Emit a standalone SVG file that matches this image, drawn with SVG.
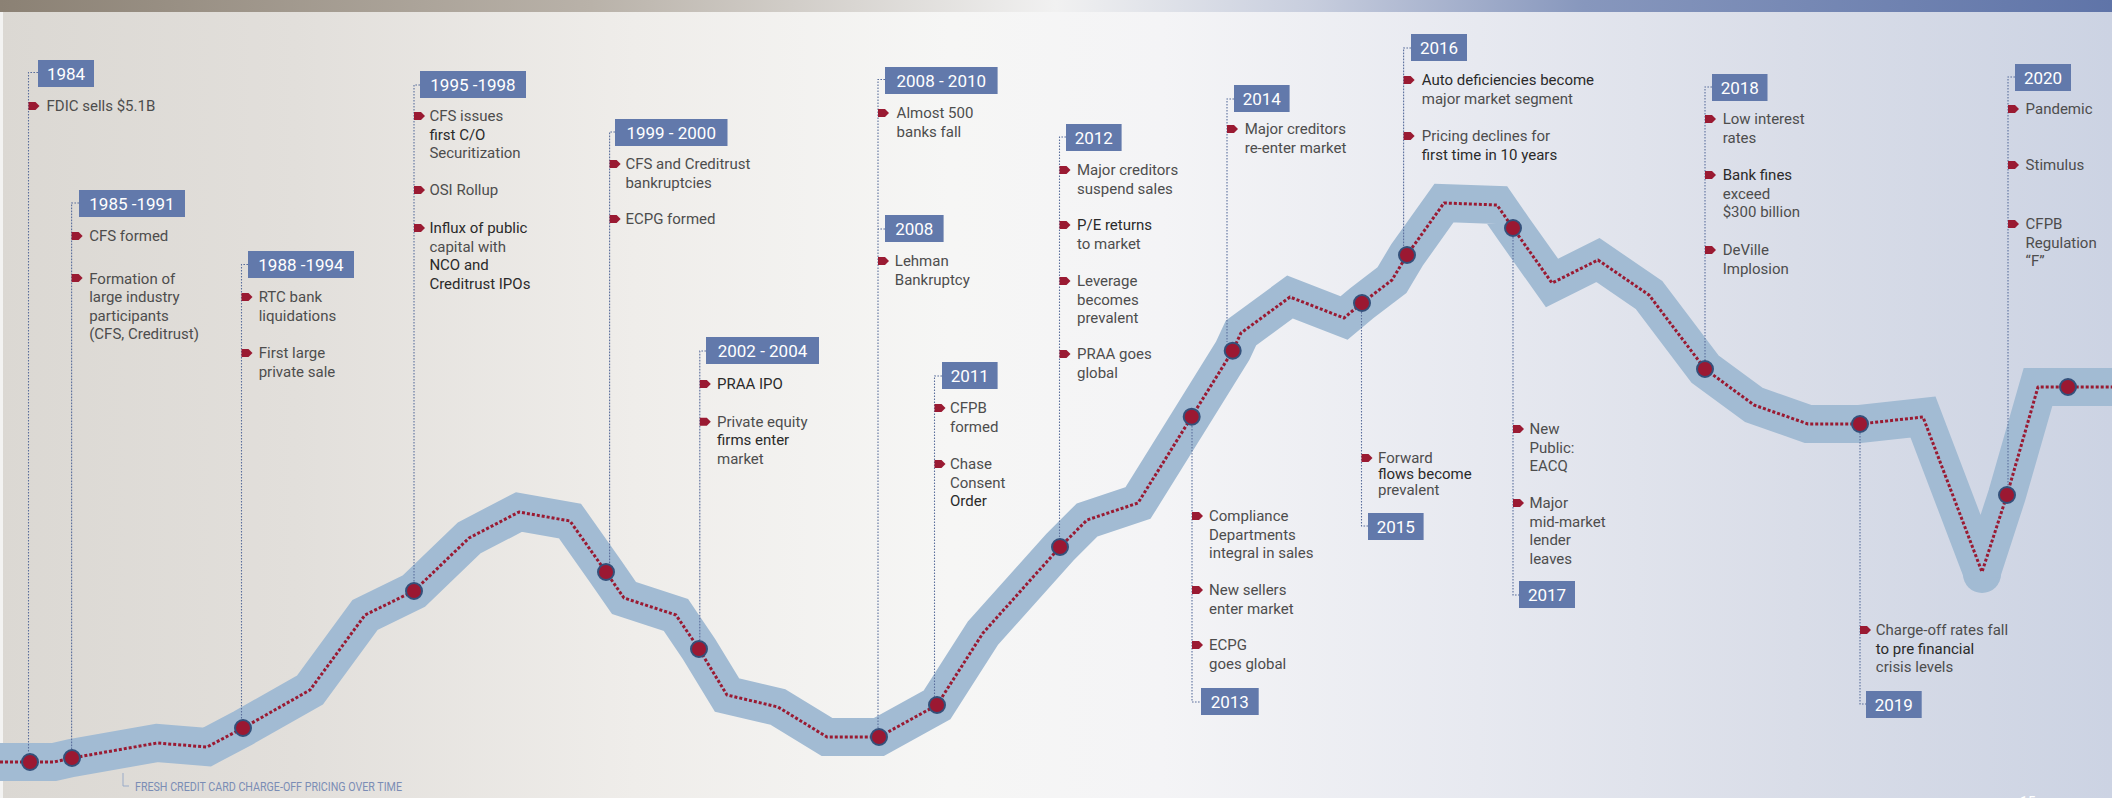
<svg xmlns="http://www.w3.org/2000/svg" xmlns:xlink="http://www.w3.org/1999/xlink" width="2112" height="798" viewBox="0 0 2112 798">
<defs>
<linearGradient id="bg" x1="0" y1="0" x2="1" y2="0">
<stop offset="0" stop-color="#dbd8d3"/>
<stop offset="0.14" stop-color="#e2dfdb"/>
<stop offset="0.3" stop-color="#efedea"/>
<stop offset="0.45" stop-color="#f6f6f5"/>
<stop offset="0.55" stop-color="#f4f4f6"/>
<stop offset="0.7" stop-color="#e7e9f0"/>
<stop offset="0.85" stop-color="#d9dde8"/>
<stop offset="1" stop-color="#ccd3e3"/>
</linearGradient>
<linearGradient id="bar" x1="0" y1="0" x2="1" y2="0">
<stop offset="0" stop-color="#8b8174"/>
<stop offset="0.28" stop-color="#b9b2a9"/>
<stop offset="0.5" stop-color="#f1f1f1"/>
<stop offset="0.62" stop-color="#c8cede"/>
<stop offset="0.75" stop-color="#8797bd"/>
<stop offset="1" stop-color="#5f74a8"/>
</linearGradient>
<path id="flag" d="M0,-4 L7,-4 L11,0 L7,4 L0,4 Z" fill="#9a1a32"/>
<style>
.yb{fill:#6279ab}
.yt{font-family:Roboto,"Liberation Sans",sans-serif;font-size:17px;fill:#ffffff;text-anchor:middle}
.t{font-family:Roboto,"Liberation Sans",sans-serif;font-size:15px;fill:#4d4d4d}
.d{fill:#2a2a2a}
.conn{fill:none;stroke:#5a6e9c;stroke-width:1.1;stroke-dasharray:1.6 1.4}
.mk{fill:#9b1832;stroke:#34507a;stroke-width:2}
</style>
</defs>
<rect x="0" y="0" width="2112" height="798" fill="url(#bg)"/>
<rect x="0" y="12" width="3" height="786" fill="#f3f3f2"/>
<rect x="0" y="0" width="2112" height="12" fill="url(#bar)"/>

<g id="chart">
<circle cx="1982" cy="574" r="19" fill="#a2bbd3"/>
<path id="band" d="M0,762 L30,762 L54,762 L72,758 L157,743 L207,747 L243,728 L310,690 L365,615 L414,591 L469,538 L519,512 L570,521 L606,572 L624,598 L676,615 L699,649 L727,695 L778,707 L827,737 L879,737 L937,705 L983,633 L1060,547 L1087,520 L1138,503 L1191.7,416.7 L1232.7,350.7 L1241,333 L1290,297 L1344,318 L1362,303 L1392,280 L1407,255 L1444,203 L1497,205 L1513,228 L1552,283 L1598,260 L1649,295 L1705,369 L1754,405 L1808,424 L1860,424 L1923,417 L1982,572 L2007,495 L2038,387 L2112,387" fill="none" stroke="#a2bbd3" stroke-width="38" stroke-linejoin="miter" stroke-miterlimit="3"/>
<path id="trend" d="M0,762 L30,762 L54,762 L72,758 L157,743 L207,747 L243,728 L310,690 L365,615 L414,591 L469,538 L519,512 L570,521 L606,572 L624,598 L676,615 L699,649 L727,695 L778,707 L827,737 L879,737 L937,705 L983,633 L1060,547 L1087,520 L1138,503 L1191.7,416.7 L1232.7,350.7 L1241,333 L1290,297 L1344,318 L1362,303 L1392,280 L1407,255 L1444,203 L1497,205 L1513,228 L1552,283 L1598,260 L1649,295 L1705,369 L1754,405 L1808,424 L1860,424 L1923,417 L1982,572 L2007,495 L2038,387 L2112,387" fill="none" stroke="#9a1a32" stroke-width="3" stroke-dasharray="3 2" stroke-linejoin="round"/>
</g>

<g id="connectors">
<path class="conn" d="M38,72.5 H28.5 V753"/>
<path class="conn" d="M79,203 H71.6 V749"/>
<path class="conn" d="M248,264.5 H241.5 V719"/>
<path class="conn" d="M420,85 H414 V582"/>
<path class="conn" d="M615,132 H609.6 V564"/>
<path class="conn" d="M706,351 H699.8 V640"/>
<path class="conn" d="M885,79.5 H878 V728"/>
<path class="conn" d="M885,229 H878"/>
<path class="conn" d="M942,376 H934.5 V697"/>
<path class="conn" d="M1066,137 H1059.5 V538"/>
<path class="conn" d="M1192,426 V702 H1201"/>
<path class="conn" d="M1234,99 H1227 V342"/>
<path class="conn" d="M1361.5,312 V526 H1368"/>
<path class="conn" d="M1411,48 H1403.6 V246"/>
<path class="conn" d="M1513,237 V595 H1519"/>
<path class="conn" d="M1712,87 H1705 V360"/>
<path class="conn" d="M1860,433 V704 H1866"/>
<path class="conn" d="M2015,77 H2008 V486"/>
</g>

<g id="markers">
<circle class="mk" cx="30" cy="762" r="8"/>
<circle class="mk" cx="72" cy="758" r="8"/>
<circle class="mk" cx="243" cy="728" r="8"/>
<circle class="mk" cx="414" cy="591" r="8"/>
<circle class="mk" cx="606" cy="572" r="8"/>
<circle class="mk" cx="699" cy="649" r="8"/>
<circle class="mk" cx="879" cy="737" r="8"/>
<circle class="mk" cx="937" cy="705" r="8"/>
<circle class="mk" cx="1060" cy="547" r="8"/>
<circle class="mk" cx="1191.7" cy="416.7" r="8"/>
<circle class="mk" cx="1232.7" cy="350.7" r="8"/>
<circle class="mk" cx="1362" cy="303" r="8"/>
<circle class="mk" cx="1407" cy="255" r="8"/>
<circle class="mk" cx="1513" cy="228" r="8"/>
<circle class="mk" cx="1705" cy="369" r="8"/>
<circle class="mk" cx="1860" cy="424" r="8"/>
<circle class="mk" cx="2007" cy="495" r="8"/>
<circle class="mk" cx="2068" cy="387" r="8"/>
</g>

<g id="n1984">
<rect class="yb" x="38" y="60" width="56" height="27"/>
<text class="yt" x="66" y="79.5">1984</text>
<use href="#flag" x="28.5" y="106"/>
<text class="t" x="46.5" y="111">FDIC sells $5.1B</text>
</g>

<g id="n1985">
<rect class="yb" x="79" y="190" width="106" height="27"/>
<text class="yt" x="132" y="209.5">1985 -1991</text>
<use href="#flag" x="71.6" y="236"/>
<text class="t" x="89.2" y="241">CFS formed</text>
<use href="#flag" x="71.6" y="278"/>
<text class="t" x="89.2" y="284">Formation of</text>
<text class="t" x="89.2" y="302.4">large industry</text>
<text class="t" x="89.2" y="320.8">participants</text>
<text class="t" x="89.2" y="339.2">(CFS, Creditrust)</text>
</g>

<g id="n1988">
<rect class="yb" x="248" y="251" width="106" height="27"/>
<text class="yt" x="301" y="270.5">1988 -1994</text>
<use href="#flag" x="241.5" y="297"/>
<text class="t" x="258.7" y="302">RTC bank</text>
<text class="t" x="258.7" y="320.5">liquidations</text>
<use href="#flag" x="241.5" y="353"/>
<text class="t" x="258.7" y="358">First large</text>
<text class="t" x="258.7" y="376.5">private sale</text>
</g>

<g id="n1995">
<rect class="yb" x="420" y="71" width="106" height="27"/>
<text class="yt" x="473" y="90.5">1995 -1998</text>
<use href="#flag" x="414" y="116"/>
<text class="t" x="429.4" y="121">CFS issues</text>
<text class="t d" x="429.4" y="139.5">first C/O</text>
<text class="t" x="429.4" y="158">Securitization</text>
<use href="#flag" x="414" y="190"/>
<text class="t" x="429.4" y="195">OSI Rollup</text>
<use href="#flag" x="414" y="228"/>
<text class="t d" x="429.4" y="233">Influx of public</text>
<text class="t" x="429.4" y="251.5">capital with</text>
<text class="t d" x="429.4" y="270">NCO and</text>
<text class="t d" x="429.4" y="288.5">Creditrust IPOs</text>
</g>

<g id="n1999">
<rect class="yb" x="615" y="119" width="112.5" height="27"/>
<text class="yt" x="671.2" y="138.5">1999 - 2000</text>
<use href="#flag" x="609.6" y="164"/>
<text class="t" x="625.4" y="169">CFS and Creditrust</text>
<text class="t" x="625.4" y="187.5">bankruptcies</text>
<use href="#flag" x="609.6" y="219"/>
<text class="t" x="625.4" y="224">ECPG formed</text>
</g>

<g id="n2002">
<rect class="yb" x="706" y="337" width="113" height="27"/>
<text class="yt" x="762.5" y="356.5">2002 - 2004</text>
<use href="#flag" x="699.8" y="384"/>
<text class="t d" x="717" y="389">PRAA IPO</text>
<use href="#flag" x="699.8" y="421.7"/>
<text class="t" x="717" y="426.7">Private equity</text>
<text class="t d" x="717" y="445">firms enter</text>
<text class="t" x="717" y="463.5">market</text>
</g>

<g id="n2008-2010">
<rect class="yb" x="885" y="67" width="112.6" height="27"/>
<text class="yt" x="941.3" y="86.5">2008 - 2010</text>
<use href="#flag" x="878" y="113"/>
<text class="t" x="896.6" y="118">Almost 500</text>
<text class="t" x="896.6" y="136.5">banks fall</text>
</g>

<g id="n2008">
<rect class="yb" x="885" y="215" width="58.6" height="27"/>
<text class="yt" x="914.3" y="234.5">2008</text>
<use href="#flag" x="878" y="261"/>
<text class="t" x="894.8" y="266">Lehman</text>
<text class="t" x="894.8" y="284.5">Bankruptcy</text>
</g>

<g id="n2011">
<rect class="yb" x="942" y="362" width="55.6" height="27"/>
<text class="yt" x="969.8" y="381.5">2011</text>
<use href="#flag" x="934.5" y="408"/>
<text class="t" x="950" y="413">CFPB</text>
<text class="t" x="950" y="431.5">formed</text>
<use href="#flag" x="934.5" y="464"/>
<text class="t" x="950" y="469">Chase</text>
<text class="t" x="950" y="487.5">Consent</text>
<text class="t d" x="950" y="506">Order</text>
</g>

<g id="n2012">
<rect class="yb" x="1066" y="124" width="55.6" height="27"/>
<text class="yt" x="1093.8" y="143.5">2012</text>
<use href="#flag" x="1059.5" y="170"/>
<text class="t" x="1077" y="175">Major creditors</text>
<text class="t" x="1077" y="193.5">suspend sales</text>
<use href="#flag" x="1059.5" y="225"/>
<text class="t d" x="1077" y="230">P/E returns</text>
<text class="t" x="1077" y="248.5">to market</text>
<use href="#flag" x="1059.5" y="281"/>
<text class="t" x="1077" y="286">Leverage</text>
<text class="t" x="1077" y="304.5">becomes</text>
<text class="t" x="1077" y="323">prevalent</text>
<use href="#flag" x="1059.5" y="354"/>
<text class="t" x="1077" y="359">PRAA goes</text>
<text class="t" x="1077" y="377.5">global</text>
</g>

<g id="n2013">
<rect class="yb" x="1201" y="688" width="57.7" height="27"/>
<text class="yt" x="1229.8" y="707.5">2013</text>
<use href="#flag" x="1192" y="516"/>
<text class="t" x="1209" y="521">Compliance</text>
<text class="t" x="1209" y="539.5">Departments</text>
<text class="t" x="1209" y="558">integral in sales</text>
<use href="#flag" x="1192" y="590"/>
<text class="t" x="1209" y="595">New sellers</text>
<text class="t" x="1209" y="613.5">enter market</text>
<use href="#flag" x="1192" y="645"/>
<text class="t" x="1209" y="650">ECPG</text>
<text class="t" x="1209" y="668.5">goes global</text>
</g>

<g id="n2014">
<rect class="yb" x="1234" y="85" width="55.6" height="27"/>
<text class="yt" x="1261.8" y="104.5">2014</text>
<use href="#flag" x="1227" y="129"/>
<text class="t" x="1244.7" y="134">Major creditors</text>
<text class="t" x="1244.7" y="152.5">re-enter market</text>
</g>

<g id="n2015">
<rect class="yb" x="1368" y="513" width="55.6" height="27"/>
<text class="yt" x="1395.8" y="532.5">2015</text>
<use href="#flag" x="1361.5" y="458"/>
<text class="t" x="1378" y="463">Forward</text>
<text class="t d" x="1378" y="479">flows become</text>
<text class="t" x="1378" y="495">prevalent</text>
</g>

<g id="n2016">
<rect class="yb" x="1411" y="34" width="56" height="27"/>
<text class="yt" x="1439" y="53.5">2016</text>
<use href="#flag" x="1403.6" y="80"/>
<text class="t d" x="1421.8" y="85">Auto deficiencies become</text>
<text class="t" x="1421.8" y="104">major market segment</text>
<use href="#flag" x="1403.6" y="136"/>
<text class="t" x="1421.8" y="141">Pricing declines for</text>
<text class="t d" x="1421.8" y="159.5">first time in 10 years</text>
</g>

<g id="n2017">
<rect class="yb" x="1519" y="581" width="56" height="27"/>
<text class="yt" x="1547" y="600.5">2017</text>
<use href="#flag" x="1513" y="429"/>
<text class="t" x="1529.5" y="434">New</text>
<text class="t" x="1529.5" y="452.5">Public:</text>
<text class="t" x="1529.5" y="471">EACQ</text>
<use href="#flag" x="1513" y="503"/>
<text class="t" x="1529.5" y="508">Major</text>
<text class="t" x="1529.5" y="526.5">mid-market</text>
<text class="t" x="1529.5" y="545">lender</text>
<text class="t" x="1529.5" y="563.5">leaves</text>
</g>

<g id="n2018">
<rect class="yb" x="1712" y="74" width="55.5" height="27"/>
<text class="yt" x="1739.8" y="93.5">2018</text>
<use href="#flag" x="1705" y="119"/>
<text class="t" x="1722.7" y="124">Low interest</text>
<text class="t" x="1722.7" y="142.5">rates</text>
<use href="#flag" x="1705" y="175"/>
<text class="t d" x="1722.7" y="180">Bank fines</text>
<text class="t" x="1722.7" y="198.5">exceed</text>
<text class="t" x="1722.7" y="217">$300 billion</text>
<use href="#flag" x="1705" y="250"/>
<text class="t" x="1722.7" y="255">DeVille</text>
<text class="t" x="1722.7" y="273.5">Implosion</text>
</g>

<g id="n2019">
<rect class="yb" x="1866" y="691" width="55.7" height="27"/>
<text class="yt" x="1893.8" y="710.5">2019</text>
<use href="#flag" x="1860" y="630"/>
<text class="t" x="1875.8" y="635">Charge-off rates fall</text>
<text class="t d" x="1875.8" y="653.5">to pre financial</text>
<text class="t" x="1875.8" y="672">crisis levels</text>
</g>

<g id="n2020">
<rect class="yb" x="2015" y="64" width="56" height="27"/>
<text class="yt" x="2043" y="83.5">2020</text>
<use href="#flag" x="2008" y="109"/>
<text class="t" x="2025.6" y="114">Pandemic</text>
<use href="#flag" x="2008" y="165"/>
<text class="t" x="2025.6" y="170">Stimulus</text>
<use href="#flag" x="2008" y="224"/>
<text class="t" x="2025.6" y="229">CFPB</text>
<text class="t" x="2025.6" y="247.5">Regulation</text>
<text class="t" x="2025.6" y="266">“F”</text>
</g>

<g id="caption">
<path d="M123,773 V786 H129" fill="none" stroke="#9aabc8" stroke-width="1"/>
<text x="135" y="791" font-family="Roboto, 'Liberation Sans', sans-serif" font-size="12" fill="#7b8db5" textLength="267" lengthAdjust="spacingAndGlyphs">FRESH CREDIT CARD CHARGE-OFF PRICING OVER TIME</text>
<text x="2020" y="807" font-family="Roboto, 'Liberation Sans', sans-serif" font-size="14" fill="#ffffff">15</text>
</g>
</svg>
